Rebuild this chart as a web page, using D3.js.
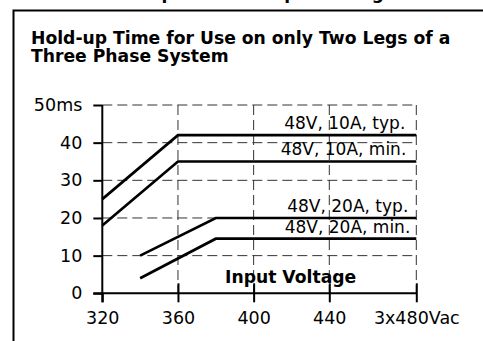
<!DOCTYPE html>
<html>
<head>
<meta charset="utf-8">
<script src="https://cdn.jsdelivr.net/npm/d3@7"></script>
<style>
  html, body { margin: 0; padding: 0; background: #fff; }
  svg { display: block; }
  text { font-family: "DejaVu Sans", sans-serif; fill: #000; }
</style>
</head>
<body>
<svg id="chart" width="483" height="341"></svg>
<script>
// Input voltage ticks (Vac) and hold-up time ticks (ms)
const xTicks = [320, 360, 400, 440, 480];
const xTickLabels = ["320", "360", "400", "440", "3x480Vac"];
const yTicks = [0, 10, 20, 30, 40, 50];
const yTickLabels = ["0", "10", "20", "30", "40", "50ms"];

// Hold-up time curves: [input voltage, hold-up time in ms]
const series = [
  { name: "48V, 10A, typ.", points: [[320, 25], [360, 42], [480, 42]] },
  { name: "48V, 10A, min.", points: [[320, 18], [360, 35], [480, 35]] },
  { name: "48V, 20A, typ.", points: [[340, 10], [380, 20], [480, 20]] },
  { name: "48V, 20A, min.", points: [[340, 4], [380, 14.5], [480, 14.5]] }
];

const svg = d3.select("#chart");

// Scales (the last voltage step is drawn a bit wider)
const x = d3.scaleLinear().domain([320, 440, 480]).range([102.3, 329.3, 416.3]);
const y = d3.scaleLinear().domain([0, 50]).range([293.3, 105]);

// Panel frame
svg.append("path")
  .attr("d", "M13.5,341 L13.5,10.5 L483,10.5")
  .attr("fill", "none").attr("stroke", "#000").attr("stroke-width", 2);

// Heading above the panel (mostly outside the view)
svg.append("text")
  .attr("x", 247).attr("y", -0.8)
  .attr("text-anchor", "middle")
  .style("font-weight", "bold").style("font-size", "17px")
  .text("Hold-up Time vs. Input Voltage");

// Panel title
const title = svg.append("text")
  .style("font-weight", "bold").style("font-size", "17.2px");
title.append("tspan").attr("x", 31).attr("y", 43.5).text("Hold-up Time for Use on only Two Legs of a");
title.append("tspan").attr("x", 31).attr("y", 61.5).text("Three Phase System");

// Dashed grid
const grid = svg.append("g")
  .attr("stroke", "#333").attr("stroke-width", 1).attr("stroke-dasharray", "10,5");
grid.selectAll("line.h").data(yTicks.filter(d => d > 0)).join("line")
  .attr("class", "h")
  .attr("x1", x(320)).attr("x2", x(480))
  .attr("y1", d => y(d)).attr("y2", d => y(d));
grid.selectAll("line.v").data(xTicks.filter(d => d > 320)).join("line")
  .attr("class", "v")
  .attr("x1", d => x(d)).attr("x2", d => x(d))
  .attr("y1", y(50)).attr("y2", y(0));

// Y axis
const yAxis = svg.append("g").attr("transform", `translate(${x(320)},0)`)
  .call(d3.axisLeft(y).tickValues(yTicks).tickFormat((d, i) => yTickLabels[i])
    .tickSizeInner(9).tickSizeOuter(0).tickPadding(11));
yAxis.select(".domain").attr("stroke-width", 2)
  .attr("d", `M0,${y(50)}V${y(0) + 9}`);
yAxis.selectAll(".tick line").attr("stroke-width", 2);
yAxis.selectAll(".tick text")
  .style("font-size", "17.5px").style("font-family", "\"DejaVu Sans\", sans-serif")
  .attr("fill", "#000");

// X axis
const xAxis = svg.append("g").attr("transform", `translate(0,${y(0)})`)
  .call(d3.axisBottom(x).tickValues(xTicks).tickFormat((d, i) => xTickLabels[i])
    .tickSizeInner(9).tickSizeOuter(0).tickPadding(9));
xAxis.select(".domain").attr("stroke-width", 2)
  .attr("d", `M${x(320) - 9},0H${x(480)}`);
xAxis.selectAll(".tick line").attr("stroke-width", 2).attr("y1", d => d > 320 ? -10 : 0);
xAxis.selectAll(".tick text")
  .style("font-size", "17.5px").style("font-family", "\"DejaVu Sans\", sans-serif")
  .attr("fill", "#000");

// Curves
const line = d3.line().x(d => x(d[0])).y(d => y(d[1]));
svg.append("g").selectAll("path").data(series).join("path")
  .attr("d", d => line(d.points))
  .attr("fill", "none").attr("stroke", "#000").attr("stroke-width", 2.7);

// Curve labels, right-aligned just above each flat segment
svg.append("g").selectAll("text").data(series).join("text")
  .attr("x", (d, i) => x(480) - [11, 10, 8, 6][i])
  .attr("y", d => y(d.points[2][1]) - 6)
  .attr("text-anchor", "end")
  .style("font-size", "17px")
  .text(d => d.name);

// Axis caption
svg.append("text")
  .attr("x", 225).attr("y", 283)
  .style("font-weight", "bold").style("font-size", "17.2px")
  .text("Input Voltage");
</script>
</body>
</html>
